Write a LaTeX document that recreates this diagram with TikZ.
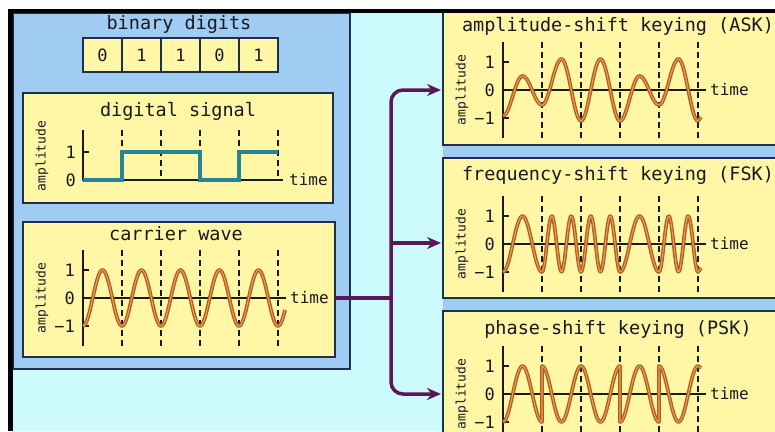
\documentclass[tikz,border=0pt]{standalone}
\usepackage{fontspec}
\usetikzlibrary{arrows.meta}
\newfontfamily\keyfont{DejaVu Sans Mono}
\definecolor{sky}{RGB}{205,250,252}
\definecolor{paneblue}{RGB}{160,204,244}
\definecolor{boxyellow}{RGB}{255,247,165}
\definecolor{edge}{RGB}{28,48,78}
\definecolor{ink}{RGB}{25,25,35}
\definecolor{wavebrown}{RGB}{176,92,32}
\definecolor{wavelight}{RGB}{232,160,80}
\definecolor{signalteal}{RGB}{38,132,148}
\definecolor{plum}{RGB}{92,22,88}

% axes of one wave plot: #1 name, #2 x of the amplitude axis, #3 y of the time axis
\newcommand{\waveaxes}[3]{%
  \foreach \k in {1,...,5} \draw[guide] (#2+39*\k,#3-48) -- (#2+39*\k,#3+48);
  \draw[axisline] (#2,#3-48) -- (#2,#3+48);
  \draw[axisline] (#2,#3) -- (#2+203,#3);
  \draw[axisline] (#2,#3-28) -- +(6,0);
  \draw[axisline] (#2,#3+28) -- +(6,0);
  \node[ticklabel] (#1one) at (#2-7,#3-28) {1};
  \node[ticklabel] (#1zero) at (#2-7,#3) {0};
  \node[ticklabel] (#1minus) at (#2-7,#3+28) {−1};
  \node[ylabel] (#1amp) at (#2-41,#3) {amplitude};
  \node[xlabel] (#1time) at (#2+206,#3) {time};
}

\begin{document}
\begin{tikzpicture}[x=1pt, y=-1pt, >={Stealth[length=14pt,width=12pt]},
  every node/.style={text=ink, inner sep=1pt},
  panel/.style={draw=edge, fill=paneblue, line width=1.6pt, inner sep=0pt},
  plotbox/.style={draw=edge, fill=boxyellow, line width=1.6pt, inner sep=0pt},
  cell/.style={draw=edge, fill=boxyellow, line width=1.3pt, minimum width=39pt, minimum height=34pt, font=\keyfont\fontsize{17}{19}\selectfont},
  title/.style={anchor=base, font=\keyfont\fontsize{18.5}{21}\selectfont},
  ticklabel/.style={anchor=east, font=\keyfont\fontsize{17}{19}\selectfont},
  xlabel/.style={anchor=west, font=\keyfont\fontsize{16}{18}\selectfont},
  ylabel/.style={rotate=90, font=\keyfont\fontsize{13}{15}\selectfont},
  axisline/.style={draw=ink, line width=1.4pt},
  guide/.style={draw=ink, line width=1.3pt, dash pattern=on 6pt off 4pt},
  wave/.style={draw=wavebrown, double=wavelight, double distance=1.1pt, line width=1.3pt, line join=round},
  bitline/.style={draw=signalteal, line width=3.2pt},
  link/.style={draw=plum, line width=3.5pt, rounded corners=12pt}]

\useasboundingbox (0,0) rectangle (775,431);
\clip (0,0) rectangle (775,431);
\fill[white] (0,0) rectangle (775,431);
\fill[black] (8,9) rectangle (775,431);
\fill[sky] (13,13) rectangle (775,431);
\fill[paneblue] (443,13) rectangle (775,431);

% left side: bits, digital signal, carrier
\node[panel, minimum width=337, minimum height=356] (board) at (181.5,191) {};
\node[title] (digitstitle) at (179,29) {binary digits};
\foreach \b [count=\i] in {0,1,1,0,1}
  \node[cell] (bit\i) at ({63.5+39*\i},55) {\b};

\node[plotbox, minimum width=310, minimum height=110] (digital) at (178,148) {};
\node[title] (digitaltitle) at (178,116) {digital signal};
\foreach \k in {1,...,5} \draw[guide] (83+39*\k,130) -- (83+39*\k,180);
\draw[axisline] (83,130) -- (83,180) -- (283,180);
\draw[axisline] (83,152) -- +(6,0);
\draw[bitline] (83,180) -- (122,180) -- (122,152) -- (200,152) -- (200,180)
  -- (239,180) -- (239,152) -- (278,152);
\node[ticklabel] (digitalone) at (77,152) {1};
\node[ticklabel] (digitalzero) at (77,180) {0};
\node[ylabel] (digitalamp) at (42,156) {amplitude};
\node[xlabel] (digitaltime) at (288,180) {time};

\node[plotbox, minimum width=312, minimum height=135] (carrier) at (179,289.5) {};
\node[title] (carriertitle) at (176,240) {carrier wave};
\waveaxes{carrier}{83}{298}
\draw[wave] plot[domain=0:5.18, samples=160] ({83+39*\x}, {298+28*cos(360*\x)});

% right side: the three keyings
\node[plotbox, minimum width=350, minimum height=134] (ask) at (618,78) {};
\node[title] (asktitle) at (618,31) {amplitude-shift keying (ASK)};
\waveaxes{ask}{503}{90}
\draw[wave] (503,116) \foreach \xa/\va/\vb in {503/-26/14, 522.5/14/-15, 542/-15/31,
    561.5/31/-31, 581/-31/31, 600.5/31/-31, 620/-31/14, 639.5/14/-15, 659/-15/31, 678.5/31/-31}
  { -- plot[domain=0:1, samples=14] ({\xa+19.5*\x}, {90-(((\va)+(\vb))/2+((\va)-(\vb))/2*cos(180*\x))}) }
  -- (701,117);

\node[plotbox, minimum width=350, minimum height=140] (fsk) at (618,228) {};
\node[title] (fsktitle) at (618,180) {frequency-shift keying (FSK)};
\waveaxes{fsk}{503}{244}
\draw[wave] (503,272) \foreach \xa/\n in {503/1, 542/2, 581/2, 620/1, 659/2}
  { -- plot[domain=0:1, samples=36] ({\xa+39*\x}, {244+28*cos(360*\n*\x)}) }
  -- (701,268);

\node[plotbox, minimum width=350, minimum height=140] (psk) at (618,381) {};
\node[title] (psktitle) at (618,334) {phase-shift keying (PSK)};
\waveaxes{psk}{503}{394}
\draw[wave] (503,422) \foreach \xa/\s in {503/1, 542/-1, 581/-1, 620/1, 659/-1}
  { -- plot[domain=0:1, samples=28] ({\xa+39*\x}, {394+(\s)*28*cos(360*\x)}) }
  -- (701,368);

% carrier goes to the three modulators
\coordinate (split) at (391,298);
\coordinate (askin) at (441,90);
\coordinate (fskin) at (441,243);
\coordinate (pskin) at (441,394);
\draw[link] (split -| carrier.east) -- (split);
\draw[link,->] (split) |- (askin);
\draw[link,->] (split) |- (pskin);
\draw[link,->] (split |- fskin) -- (fskin);

\fill[black] (8,9) rectangle (775,13);
\fill[black] (8,9) rectangle (13,431);

\end{tikzpicture}
\end{document}
